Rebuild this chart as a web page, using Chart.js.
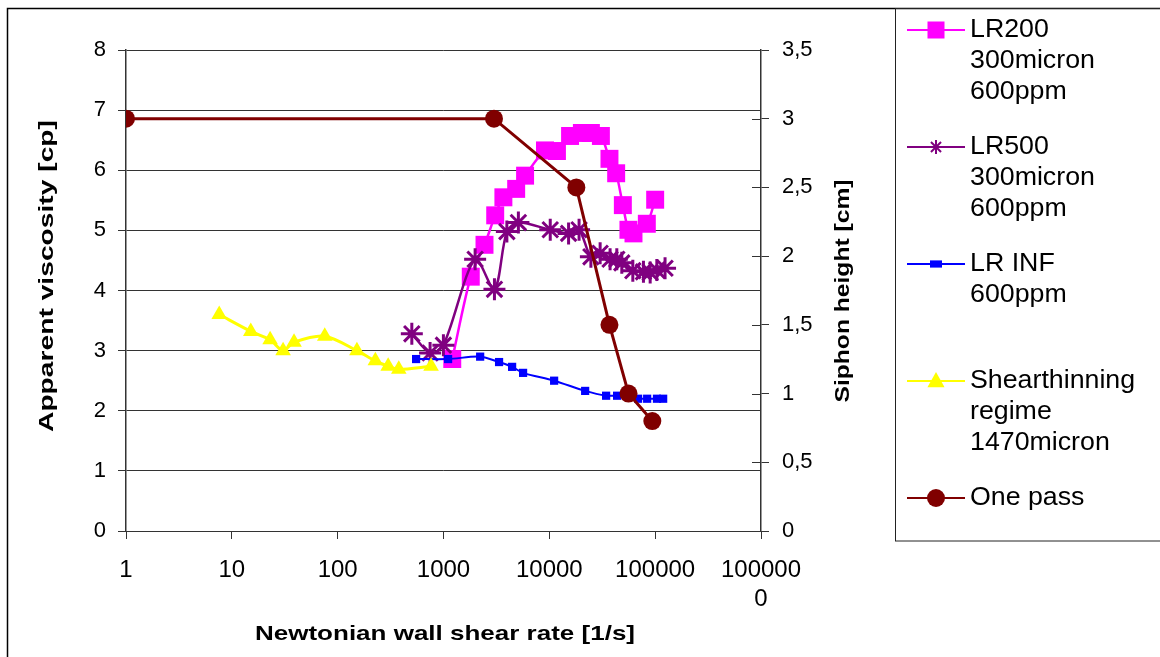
<!DOCTYPE html>
<html>
<head>
<meta charset="utf-8">
<script src="https://cdn.jsdelivr.net/npm/chart.js@4/dist/chart.umd.min.js"></script>
<style>
  html, body { margin: 0; padding: 0; background: #fff; }
  #wrap { width: 1160px; height: 657px; }
</style>
</head>
<body>
<div id="wrap"><canvas id="chart" width="1160" height="657"></canvas></div>
<script>
// x = Newtonian wall shear rate [1/s], y = apparent viscosity [cp] / siphon height [cm]
const lr200X = [1210, 1810, 2440, 3080, 3680, 4860, 5900, 9100, 11800, 15700, 20300, 24700, 30700, 37000, 42800, 49500, 55900, 62400, 83400, 100000];
const lr200Y = [2.86, 4.23, 4.76, 5.25, 5.55, 5.69, 5.91, 6.33, 6.32, 6.57, 6.62, 6.62, 6.57, 6.19, 5.95, 5.42, 5.01, 4.95, 5.11, 5.51];

const lr500X = [502, 747, 998, 1990, 3030, 3970, 5100, 10200, 15200, 19100, 24700, 30200, 37500, 43400, 48400, 61500, 77500, 89700, 103700, 124000];
const lr500Y = [3.28, 2.96, 3.09, 4.52, 4.02, 4.98, 5.13, 5.01, 4.95, 5.01, 4.56, 4.62, 4.52, 4.52, 4.46, 4.33, 4.31, 4.30, 4.34, 4.37];

const lrInfX = [551, 1105, 2220, 3350, 4450, 5650, 11100, 21800, 34400, 43700, 69000, 84000, 104000, 119000];
const lrInfY = [2.86, 2.86, 2.90, 2.81, 2.73, 2.63, 2.50, 2.33, 2.25, 2.25, 2.20, 2.20, 2.20, 2.20];

const shearX = [7.6, 15.1, 23, 30.5, 38.7, 75.5, 152, 227, 300, 378, 763];
const shearY = [3.60, 3.32, 3.18, 3.00, 3.14, 3.24, 3.00, 2.83, 2.74, 2.69, 2.74];

const onePassX = [1, 3000, 18000, 37000, 56000, 94000];
const onePassY = [3.0, 3.0, 2.5, 1.5, 1.0, 0.8];

const xTicks = [1, 10, 100, 1000, 10000, 100000, 1000000];

const legendLabels = [
  ["LR200", "300micron", "600ppm"],
  ["LR500", "300micron", "600ppm"],
  ["LR INF", "600ppm"],
  ["Shearthinning", "regime", "1470micron"],
  ["One pass"]
];

const xTitle = "Newtonian wall shear rate [1/s]";
const yTitle = "Apparent viscosity [cp]";
const y2Title = "Siphon height [cm]";

const FONT = "'Liberation Sans', Arial, sans-serif";

function pts(xs, ys) {
  return xs.map((x, i) => ({ x: x, y: ys[i] }));
}

// the old chart had its text stretched sideways, so draw titles scaled to a width
function stretchedText(ctx, text, cx, cy, rot, width) {
  const w = ctx.measureText(text).width;
  ctx.save();
  ctx.translate(cx, cy);
  ctx.rotate(rot);
  ctx.scale(width / w, 1);
  ctx.fillText(text, 0, 0);
  ctx.restore();
}

// frame round the whole chart, the legend box, titles and right axis ticks
const framePlugin = {
  id: "frame",
  afterDraw(chart) {
    const ctx = chart.ctx;
    ctx.save();
    ctx.strokeStyle = "#000";
    ctx.lineWidth = 1.5;
    ctx.beginPath();
    ctx.moveTo(7.5, 660);
    ctx.lineTo(7.5, 8.5);
    ctx.lineTo(1165, 8.5);
    ctx.stroke();
    ctx.lineWidth = 1;
    ctx.strokeStyle = "#222";
    ctx.strokeRect(895.5, 8.5, 300, 532.5);

    // right axis tick marks reach into the plot too
    const y2 = chart.scales.y2;
    ctx.strokeStyle = "#333";
    ctx.beginPath();
    y2.ticks.forEach(t => {
      const py = Math.round(y2.getPixelForValue(t.value)) + 0.5;
      ctx.moveTo(y2.left - 9, py);
      ctx.lineTo(y2.left, py);
    });
    ctx.stroke();

    ctx.fillStyle = "#000";
    ctx.font = "bold 21px " + FONT;
    ctx.textAlign = "center";
    ctx.textBaseline = "middle";
    stretchedText(ctx, yTitle, 47, 276, -Math.PI / 2, 312);
    stretchedText(ctx, y2Title, 843, 291, -Math.PI / 2, 223);
    stretchedText(ctx, xTitle, 445, 634, 0, 380);
    ctx.restore();
  }
};

function drawMarker(ctx, style, x, y, r, color) {
  ctx.fillStyle = color;
  ctx.strokeStyle = color;
  ctx.beginPath();
  if (style === "rect") {
    ctx.fillRect(x - r, y - r, 2 * r, 2 * r);
  } else if (style === "smallrect") {
    ctx.fillRect(x - r, y - r * 0.6, 2 * r, 1.2 * r);
  } else if (style === "circle") {
    ctx.arc(x, y, r, 0, Math.PI * 2);
    ctx.fill();
  } else if (style === "triangle") {
    ctx.moveTo(x, y - r);
    ctx.lineTo(x + r * 0.95, y + r * 0.7);
    ctx.lineTo(x - r * 0.95, y + r * 0.7);
    ctx.closePath();
    ctx.fill();
  } else if (style === "star") {
    ctx.lineWidth = 2;
    ctx.moveTo(x - r, y); ctx.lineTo(x + r, y);
    ctx.moveTo(x, y - r); ctx.lineTo(x, y + r);
    const d = r * 0.72;
    ctx.moveTo(x - d, y - d); ctx.lineTo(x + d, y + d);
    ctx.moveTo(x - d, y + d); ctx.lineTo(x + d, y - d);
    ctx.stroke();
  }
}

const legendPlugin = {
  id: "boxLegend",
  afterDraw(chart) {
    const ctx = chart.ctx;
    const items = chart.data.datasets.slice().sort((a, b) => a.legendIndex - b.legendIndex);
    ctx.save();
    ctx.font = "25px " + FONT;
    ctx.textBaseline = "middle";
    ctx.textAlign = "left";
    items.forEach((ds, i) => {
      const y0 = 30 + i * 117;
      ctx.strokeStyle = ds.borderColor;
      ctx.lineWidth = 2;
      ctx.beginPath();
      ctx.moveTo(907, y0);
      ctx.lineTo(965, y0);
      ctx.stroke();
      drawMarker(ctx, ds.legendMarker, 936, y0, ds.legendSize, ds.borderColor);
      ctx.fillStyle = "#000";
      legendLabels[ds.legendIndex].forEach((line, j) => {
        ctx.save();
        ctx.translate(970, y0 + j * 31);
        ctx.scale(1.07, 1);
        ctx.fillText(line, 0, 0);
        ctx.restore();
      });
    });
    ctx.restore();
  }
};

const tickFont = { family: FONT, size: 22 };

new Chart(document.getElementById("chart"), {
  type: "line",
  data: {
    datasets: [
      {
        label: "One pass",
        data: pts(onePassX, onePassY),
        yAxisID: "y2",
        borderColor: "#800000",
        backgroundColor: "#800000",
        borderWidth: 3,
        pointStyle: "circle",
        pointRadius: 9,
        pointBorderWidth: 0,
        tension: 0,
        order: 0,
        legendIndex: 4, legendMarker: "circle", legendSize: 9
      },
      {
        label: "Shearthinning regime 1470micron",
        data: pts(shearX, shearY),
        yAxisID: "y",
        borderColor: "#FFFF00",
        backgroundColor: "#FFFF00",
        borderWidth: 3,
        pointStyle: "triangle",
        pointRadius: 9,
        pointBorderWidth: 0,
        tension: 0.3,
        order: 1,
        legendIndex: 3, legendMarker: "triangle", legendSize: 9
      },
      {
        label: "LR INF 600ppm",
        data: pts(lrInfX, lrInfY),
        yAxisID: "y",
        borderColor: "#0000FF",
        backgroundColor: "#0000FF",
        borderWidth: 2,
        pointStyle: "rect",
        pointRadius: 5.8,
        pointBorderWidth: 0,
        tension: 0.3,
        order: 2,
        legendIndex: 2, legendMarker: "smallrect", legendSize: 6
      },
      {
        label: "LR500 300micron 600ppm",
        data: pts(lr500X, lr500Y),
        yAxisID: "y",
        borderColor: "#800080",
        backgroundColor: "#800080",
        borderWidth: 2.5,
        pointStyle: "star",
        pointRadius: 11,
        pointBorderWidth: 3,
        tension: 0.3,
        order: 3,
        legendIndex: 1, legendMarker: "star", legendSize: 7
      },
      {
        label: "LR200 300micron 600ppm",
        data: pts(lr200X, lr200Y),
        yAxisID: "y",
        borderColor: "#FF00FF",
        backgroundColor: "#FF00FF",
        borderWidth: 2.5,
        pointStyle: "rect",
        pointRadius: 12.7,
        pointBorderWidth: 0,
        tension: 0.3,
        order: 4,
        legendIndex: 0, legendMarker: "rect", legendSize: 8.5
      }
    ]
  },
  options: {
    responsive: false,
    animation: false,
    layout: { padding: { top: 50, left: 0, right: 289, bottom: 0 } },
    plugins: {
      legend: { display: false },
      tooltip: { enabled: false }
    },
    elements: { point: { hoverRadius: 0 } },
    scales: {
      x: {
        type: "logarithmic",
        min: 1,
        max: 1000000,
        afterBuildTicks: (scale) => { scale.ticks = xTicks.map(v => ({ value: v })); },
        afterFit: (scale) => { scale.height = 126; },
        grid: { drawOnChartArea: false, drawTicks: true, tickLength: 8, color: "#333", lineWidth: 1 },
        border: { color: "#333", width: 1 },
        ticks: {
          font: { family: FONT, size: 24 },
          color: "#000",
          padding: 17,
          maxRotation: 0,
          autoSkip: false,
          callback: (v) => v === 1000000 ? ["100000", "0"] : String(v)
        },
        title: { display: false }
      },
      y: {
        position: "left",
        min: 0,
        max: 8,
        afterFit: (scale) => { scale.width = 126; },
        grid: { color: "#333", lineWidth: 1, tickLength: 8 },
        border: { color: "#333", width: 1.5 },
        ticks: { stepSize: 1, font: tickFont, color: "#000", padding: 12 },
        title: { display: false }
      },
      y2: {
        position: "right",
        min: 0,
        max: 3.5,
        afterFit: (scale) => { scale.width = 110; },
        grid: { drawOnChartArea: false, color: "#333", tickLength: 8 },
        border: { color: "#333", width: 1.5 },
        ticks: {
          stepSize: 0.5,
          font: tickFont,
          color: "#000",
          padding: 13,
          callback: (v) => String(v).replace(".", ",")
        },
        title: { display: false }
      }
    }
  },
  plugins: [framePlugin, legendPlugin]
});
</script>
</body>
</html>
